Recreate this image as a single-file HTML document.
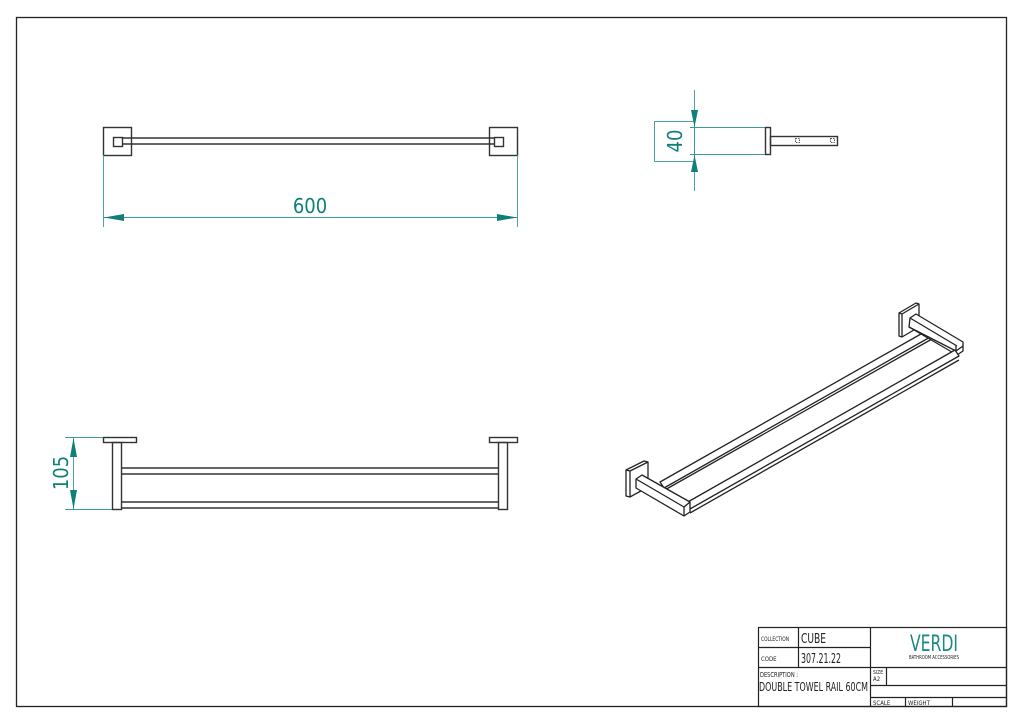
<!DOCTYPE html>
<html><head><meta charset="utf-8"><style>
html,body{margin:0;padding:0;background:#fff;width:1024px;height:724px;overflow:hidden}
svg{display:block}
text{font-family:"DejaVu Sans Condensed","Liberation Sans Narrow","Liberation Sans",sans-serif}
</style></head><body>
<svg width="1024" height="724" viewBox="0 0 1024 724" xmlns="http://www.w3.org/2000/svg">
<rect x="16.5" y="17.5" width="990" height="689" fill="none" stroke="#222" stroke-width="1.3"/>
<g fill="none" stroke="#333" stroke-width="1.4">
<rect x="103.5" y="127.5" width="28" height="28"/>
<rect x="113.5" y="137.5" width="9" height="9"/>
<rect x="489.5" y="127.5" width="28" height="28"/>
<rect x="494.5" y="137.5" width="9" height="9"/>
<line x1="122" y1="138" x2="494" y2="138"/>
<line x1="122" y1="144" x2="494" y2="144"/>
<rect x="765.5" y="127.5" width="5" height="27"/>
<rect x="770.5" y="136.5" width="67" height="9"/>
<rect x="795.5" y="138.5" width="4" height="4" stroke-dasharray="1.5 1" stroke-width="0.8"/>
<rect x="830.5" y="138.5" width="4" height="4" stroke-dasharray="1.5 1" stroke-width="0.8"/>
<rect x="103.5" y="437.5" width="33" height="5"/>
<rect x="112.5" y="442.5" width="9" height="67"/>
<rect x="489.5" y="437.5" width="28" height="5"/>
<rect x="498.5" y="442.5" width="9" height="67"/>
<line x1="122" y1="468" x2="498" y2="468"/><line x1="122" y1="474" x2="498" y2="474"/>
<line x1="122" y1="502" x2="498" y2="502"/><line x1="122" y1="508" x2="498" y2="508"/>
</g>
<g fill="#fff" stroke="#222" stroke-width="1.3" stroke-linejoin="round">
<polygon points="899,313 916,303 919,304 919,327 902,337 899,336"/>
<polyline points="899,313 902,314 919,304" fill="none"/><line x1="902" y1="314" x2="902" y2="337"/>
<polygon points="660,482 928,330 932,336 664,488"/>
<line x1="663" y1="491" x2="932" y2="339"/>
<polygon points="910,318 916,314 963,342 963,351 957,355 909,327"/>
<polyline points="909,327 956,351 963,346" fill="none"/><line x1="956" y1="346" x2="956" y2="355"/><line x1="910" y1="318" x2="957" y2="346"/>
<polygon points="686,503 955,350 959,356 690,509"/>
<line x1="690" y1="513" x2="959" y2="360"/>
<polygon points="626,470 644,461 648,462 648,487 630,497 626,496"/>
<polyline points="626,470 630,471 648,462" fill="none"/><line x1="630" y1="471" x2="630" y2="497"/>
<polygon points="636,479 642,475 690,502 690,512 684,516 636,488"/>
<polyline points="636,479 684,507 690,502" fill="none"/><line x1="684" y1="507" x2="684" y2="516"/>
</g>
<g stroke="#3a9a95" stroke-width="0.9" fill="none">
<line x1="103.5" y1="155" x2="103.5" y2="227"/>
<line x1="517.5" y1="155" x2="517.5" y2="227"/>
<line x1="104" y1="217.5" x2="517" y2="217.5"/>
<line x1="690" y1="127.5" x2="765" y2="127.5"/>
<line x1="690" y1="154.5" x2="765" y2="154.5"/>
<line x1="694.5" y1="90" x2="694.5" y2="191"/>
<rect x="654.5" y="121.5" width="40" height="40"/>
<line x1="65" y1="437.5" x2="103" y2="437.5"/>
<line x1="65" y1="509.5" x2="112" y2="509.5"/>
<line x1="73.5" y1="438" x2="73.5" y2="509"/>
</g>
<g fill="#0f7f78">
<polygon points="104,217.5 124,214 124,221"/>
<polygon points="517,217.5 497,214 497,221"/>
<polygon points="694.5,127 691,110 698,110"/>
<polygon points="694.5,155 691,172 698,172"/>
<polygon points="73.5,438 70,457 77,457"/>
<polygon points="73.5,509 70,490 77,490"/>
</g>
<g fill="#0f7f78" font-size="20">
<text x="310" y="213" text-anchor="middle">600</text>
<text transform="translate(682,141) rotate(-90)" text-anchor="middle">40</text>
<text transform="translate(68,473) rotate(-90)" text-anchor="middle">105</text>
</g>
<g fill="none" stroke="#222" stroke-width="1.2">
<rect x="758.5" y="627.5" width="248" height="79"/>
<line x1="870.5" y1="627" x2="870.5" y2="707"/>
<line x1="758" y1="647.5" x2="870" y2="647.5"/>
<line x1="758" y1="667.5" x2="1007" y2="667.5"/>
<line x1="798.5" y1="627" x2="798.5" y2="667"/>
<line x1="886.5" y1="667" x2="886.5" y2="685"/>
<line x1="870" y1="685.5" x2="1007" y2="685.5"/>
<line x1="870" y1="697.5" x2="1007" y2="697.5"/>
<line x1="905.5" y1="697" x2="905.5" y2="707"/>
<line x1="952.5" y1="697" x2="952.5" y2="707"/>
</g>
<g fill="#222">
<text x="761" y="641" font-size="6" textLength="28" lengthAdjust="spacingAndGlyphs">COLLECTION</text>
<text x="801" y="643" font-size="13" textLength="25" lengthAdjust="spacingAndGlyphs">CUBE</text>
<text x="761" y="661" font-size="6">CODE</text>
<text x="801" y="663" font-size="13" textLength="40" lengthAdjust="spacingAndGlyphs">307.21.22</text>
<text x="760" y="677" font-size="7" textLength="38" lengthAdjust="spacingAndGlyphs">DESCRIPTION :</text>
<text x="759" y="691" font-size="12" textLength="109" lengthAdjust="spacingAndGlyphs">DOUBLE TOWEL RAIL 60CM</text>
<text x="873" y="674" font-size="5">SIZE</text>
<text x="873" y="681" font-size="6">A2</text>
<text x="873" y="705" font-size="6">SCALE</text>
<text x="908" y="705" font-size="6">WEIGHT</text>
<text x="934" y="659" font-size="5" text-anchor="middle" textLength="50" lengthAdjust="spacingAndGlyphs">BATHROOM ACCESSORIES</text>
</g>
<text x="934" y="651" font-size="22" fill="#1a8a85" text-anchor="middle" textLength="48" lengthAdjust="spacingAndGlyphs">VERDI</text>
</svg>
</body></html>
